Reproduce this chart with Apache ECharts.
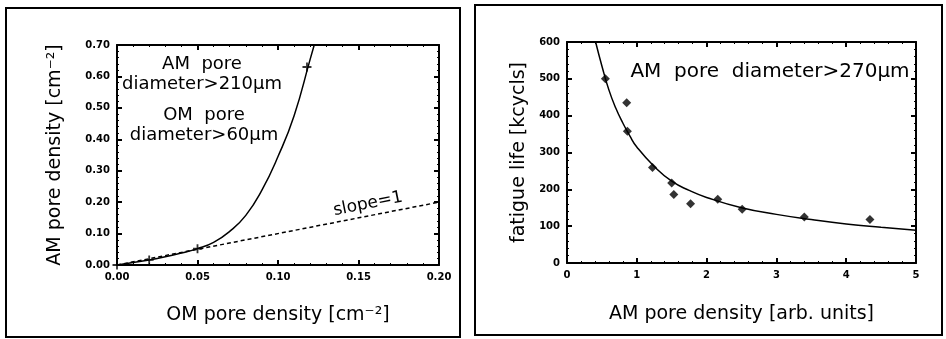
<!DOCTYPE html>
<html>
<head>
<meta charset="utf-8">
<script src="https://cdn.jsdelivr.net/npm/echarts@6/dist/echarts.min.js"></script>
<style>
html, body { margin: 0; padding: 0; background: #fff; }
#main { width: 946px; height: 339px; }
</style>
</head>
<body>
<div id="main"></div>
<script>
// left panel: OM vs AM pore density
var omAmPoints = [[0.00, 0.00], [0.02, 0.016], [0.05, 0.052], [0.118, 0.63]];
var omAmCurve = [[0.00, 0.00], [0.01, 0.008], [0.02, 0.016], [0.03, 0.026], [0.04, 0.038], [0.05, 0.052],
    [0.06, 0.072], [0.07, 0.107], [0.08, 0.158], [0.09, 0.238], [0.10, 0.345], [0.11, 0.475],
    [0.12, 0.655], [0.1225, 0.70]];
var slopeLine = [[0.00, 0.00], [0.20, 0.20]];

// right panel: fatigue life vs AM pore density
var fatiguePoints = [[0.55, 500], [0.855, 435], [0.865, 358], [1.225, 259], [1.50, 217], [1.53, 186],
    [1.77, 161], [2.16, 173], [2.51, 146], [3.40, 125], [4.34, 118]];
var fatigueCurve = [[0.41, 600], [0.5, 535], [0.6, 470], [0.7, 420], [0.8, 380], [0.9, 345], [1.0, 315],
    [1.25, 262], [1.5, 222], [1.75, 197], [2.0, 178], [2.5, 150], [3.0, 132], [3.5, 118],
    [4.0, 106], [4.5, 97], [5.0, 89]];

var myChart = echarts.init(document.getElementById('main'));

var font = 'DejaVu Sans';
var tickFont = { fontFamily: font, fontSize: 10, fontWeight: 'bold', color: '#000' };
var plusPath = 'path://M4,0H6V4H10V6H6V10H4V6H0V4H4Z';

function mainAxis(gi, pos, min, max, interval, fmt, name, gap) {
    return {
        type: 'value', gridIndex: gi, position: pos, min: min, max: max, interval: interval,
        name: name, nameLocation: 'middle', nameGap: gap,
        nameTextStyle: { fontFamily: font, fontSize: 19, color: '#000' },
        axisLine: { show: true, onZero: false, lineStyle: { color: '#000', width: 2 } },
        axisTick: { show: true, inside: true, length: 5, lineStyle: { color: '#000', width: 2 } },
        minorTick: { show: true, splitNumber: 5, length: 2, lineStyle: { color: '#000' } },
        axisLabel: Object.assign({ formatter: fmt, margin: 7 }, tickFont),
        splitLine: { show: false }
    };
}
function sideAxis(gi, pos, min, max, interval) {
    return {
        type: 'value', gridIndex: gi, position: pos, min: min, max: max, interval: interval,
        axisLine: { show: true, onZero: false, lineStyle: { color: '#000', width: 2 } },
        axisTick: { show: true, inside: true, length: 5, lineStyle: { color: '#000', width: 2 } },
        minorTick: { show: true, splitNumber: 5, length: 2, lineStyle: { color: '#000' } },
        axisLabel: { show: false },
        splitLine: { show: false }
    };
}
function note(x, y, text, size, rot) {
    return {
        type: 'text', x: x, y: y, rotation: rot || 0,
        style: { text: text, font: size + 'px "DejaVu Sans"', fill: '#000', align: 'center', verticalAlign: 'middle' }
    };
}

var option = {
    animation: false,
    backgroundColor: '#fff',
    grid: [
        { left: 117, top: 45, width: 322, height: 220 },
        { left: 567, top: 42, width: 349, height: 221 }
    ],
    xAxis: [
        mainAxis(0, 'bottom', 0, 0.2, 0.05, function (v) { return v.toFixed(2); }, 'OM pore density [cm⁻²]', 41),
        sideAxis(0, 'top', 0, 0.2, 0.05),
        mainAxis(1, 'bottom', 0, 5, 1, function (v) { return String(v); }, 'AM pore density [arb. units]', 42),
        sideAxis(1, 'top', 0, 5, 1)
    ],
    yAxis: [
        mainAxis(0, 'left', 0, 0.7, 0.1, function (v) { return v.toFixed(2); }, 'AM pore density [cm⁻²]', 52),
        sideAxis(0, 'right', 0, 0.7, 0.1),
        mainAxis(1, 'left', 0, 600, 100, function (v) { return String(v); }, 'fatigue life [kcycls]', 38),
        sideAxis(1, 'right', 0, 600, 100)
    ],
    graphic: [
        { type: 'rect', shape: { x: 6, y: 8, width: 454, height: 329 }, style: { fill: 'none', stroke: '#000', lineWidth: 2 } },
        { type: 'rect', shape: { x: 475, y: 5, width: 467, height: 330 }, style: { fill: 'none', stroke: '#000', lineWidth: 2 } },
        note(202, 64, 'AM  pore', 18),
        note(202, 84, 'diameter>210μm', 18),
        note(204, 115, 'OM  pore', 18),
        note(204, 135, 'diameter>60μm', 18),
        note(368, 204, 'slope=1', 17, 0.2),
        note(770, 72, 'AM  pore  diameter>270μm', 20)
    ],
    series: [
        {
            name: 'fit', type: 'line', xAxisIndex: 0, yAxisIndex: 0, data: omAmCurve, smooth: true,
            showSymbol: false, lineStyle: { color: '#000', width: 1.5 }
        },
        {
            name: 'slope', type: 'line', xAxisIndex: 0, yAxisIndex: 0, data: slopeLine,
            showSymbol: false, lineStyle: { color: '#000', width: 1.5, type: [4, 3] }
        },
        {
            name: 'data', type: 'scatter', xAxisIndex: 0, yAxisIndex: 0, data: omAmPoints,
            symbol: plusPath, symbolSize: 9, itemStyle: { color: '#000' }
        },
        {
            name: 'fit2', type: 'line', xAxisIndex: 2, yAxisIndex: 2, data: fatigueCurve, smooth: true,
            showSymbol: false, lineStyle: { color: '#000', width: 1.5 }
        },
        {
            name: 'data2', type: 'scatter', xAxisIndex: 2, yAxisIndex: 2, data: fatiguePoints,
            symbol: 'diamond', symbolSize: 9, itemStyle: { color: '#000' }
        }
    ]
};

myChart.setOption(option);
</script>
</body>
</html>
